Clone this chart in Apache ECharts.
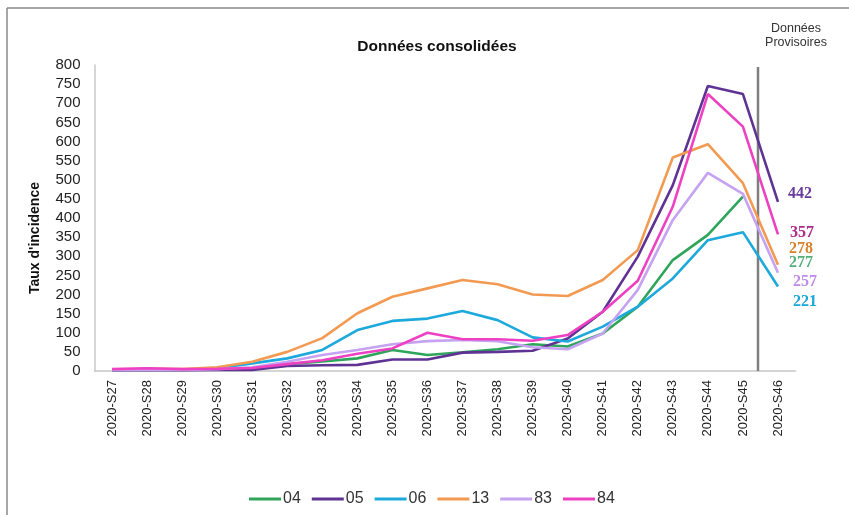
<!DOCTYPE html>
<html>
<head>
<meta charset="utf-8">
<script src="https://cdn.jsdelivr.net/npm/echarts@6/dist/echarts.min.js"></script>
<style>html,body{margin:0;padding:0;background:#fff;}#c{width:849px;height:515px;}</style>
</head>
<body>
<div id="c"></div>
<script>
var weeks = ['2020-S27','2020-S28','2020-S29','2020-S30','2020-S31','2020-S32','2020-S33','2020-S34','2020-S35','2020-S36','2020-S37','2020-S38','2020-S39','2020-S40','2020-S41','2020-S42','2020-S43','2020-S44','2020-S45','2020-S46'];
var yTicks = [0,50,100,150,200,250,300,350,400,450,500,550,600,650,700,750,800];
var d04 = [3,4,3,5,8,18,25,33,55,42,49,57,70,64,98,168,290,356,456,null];
var d04Last = 277;
var d05 = [2,3,2,3,3,13,15,16,30,30,48,50,53,85,155,299,486,745,724,442];
var d06 = [3,5,4,7,20,33,55,107,131,137,157,133,88,77,116,168,242,342,363,221];
var d13 = [4,6,5,10,24,50,86,151,194,216,238,227,200,196,238,316,558,593,491,278];
var d83 = [3,4,3,5,10,24,42,55,70,78,81,78,62,57,98,212,395,518,463,257];
var d84 = [5,7,5,6,8,18,28,45,59,100,83,83,79,94,155,236,430,724,639,357];
var names = ['04','05','06','13','83','84'];
var provisionalPos = 18.93; // position of the separator, in category bands
var sepTop = 795;

var colors = {'04':'#2ea55a','05':'#5f3394','06':'#1da9dc','13':'#f29a52','83':'#c6a2f2','84':'#ee40c2'};
var labelColors = {'04':'#2b9a55','05':'#6a3a9c','06':'#1aa6d8','13':'#d8822e','83':'#c08ae8','84':'#aa2a86'};
var labelOffsets = {'05':[10,-8],'06':[15,15],'13':[11,-16],'83':[15,9],'84':[12,-2]};
var labelFont = {fontFamily:'Liberation Serif',fontWeight:'bold',fontSize:16};

function mkLine(name, data){
  return {
    name:name, type:'line', data:data, symbol:'none', smooth:false,
    lineStyle:{width:2.6,color:colors[name]}, itemStyle:{color:colors[name]},
    endLabel: labelOffsets[name] ? Object.assign({show:true, distance:0, offset:labelOffsets[name], color:labelColors[name],
      formatter:function(p){return p.value;}}, labelFont) : {show:false},
    z:3
  };
}

var series = [
  mkLine('04', d04), mkLine('05', d05), mkLine('06', d06), mkLine('13', d13), mkLine('83', d83), mkLine('84', d84),
  {
    name:'lbl04', type:'scatter', symbolSize:0.1, data:[[weeks[weeks.length-1], d04Last]],
    itemStyle:{color:'rgba(0,0,0,0)'},
    label:Object.assign({show:true, position:'right', distance:0, offset:[11,-2], color:labelColors['04'],
      formatter:function(p){return p.value[1];}}, labelFont),
    silent:true
  },
  {
    name:'sep', type:'line', xAxisIndex:1, data:[[provisionalPos,0],[provisionalPos,sepTop]],
    symbol:'none', lineStyle:{color:'#7f7f7f', width:2.5}, silent:true, z:2
  }
];

var chart = echarts.init(document.getElementById('c'), null, {renderer:'canvas'});
chart.setOption({
  backgroundColor:'#fff',
  animation:false,
  textStyle:{fontFamily:'Liberation Sans'},
  grid:{left:94.5, right:53.5, top:65, bottom:144, containLabel:false},
  legend:{
    data:names, bottom:3, left:244, itemWidth:32, itemHeight:12, itemGap:11,
    icon:'path://M0,5 L32,5 L32,8 L0,8 Z',
    textStyle:{fontSize:16, color:'#333', fontFamily:'Liberation Sans', padding:[0,0,0,-3]}
  },
  xAxis:[{
    type:'category', data:weeks, boundaryGap:true,
    axisLine:{lineStyle:{color:'#c8c8c8', width:1.5}},
    axisTick:{show:false},
    axisLabel:{rotate:90, fontSize:13, color:'#222', margin:9, interval:0}
  },{
    type:'value', min:0, max:20, show:false
  }],
  yAxis:{
    type:'value', min:0, max:800, interval:50,
    axisLine:{show:true, lineStyle:{color:'#c8c8c8', width:1.5}},
    axisTick:{show:false},
    splitLine:{show:false},
    axisLabel:{fontSize:15, color:'#222', margin:14,
      formatter:function(v){return yTicks.indexOf(v)>=0 ? String(v) : '';}}
  },
  graphic:[
    {type:'line', shape:{x1:7,y1:8,x2:849,y2:8}, style:{stroke:'#8a8a8a', lineWidth:1.5}, silent:true},
    {type:'line', shape:{x1:7,y1:8,x2:7,y2:515}, style:{stroke:'#8a8a8a', lineWidth:1.5}, silent:true},
    {type:'text', x:437, y:47, style:{text:'Données consolidées', font:'bold 15.5px "Liberation Sans"', fill:'#111', textAlign:'center', textVerticalAlign:'middle'}},
    {type:'text', x:796, y:36, style:{text:'Données\nProvisoires', font:'12.5px "Liberation Sans"', fill:'#333', textAlign:'center', textVerticalAlign:'middle', lineHeight:14}},
    {type:'text', x:35, y:238, rotation:Math.PI/2, style:{text:'Taux d\'incidence', font:'bold 14px "Liberation Sans"', fill:'#111', textAlign:'center', textVerticalAlign:'middle'}}
  ],
  series:series
});
</script>
</body>
</html>
